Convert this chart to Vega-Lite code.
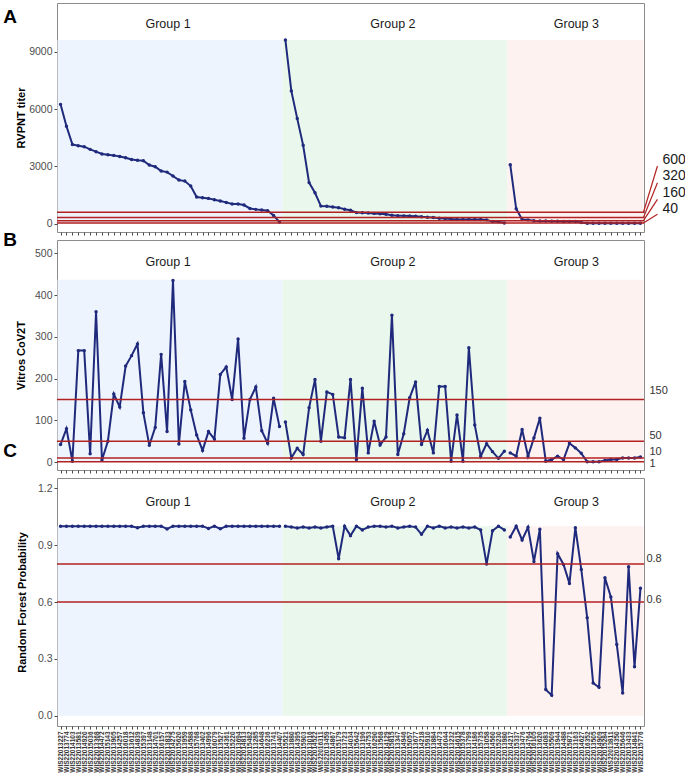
{
  "$schema": "https://vega.github.io/schema/vega-lite/v6.json",
  "padding": {"left": 2, "top": 2, "right": 0, "bottom": 0},
  "spacing": 8,
  "bounds": "flush",
  "config": {
    "font": "Liberation Sans",
    "view": {"stroke": "#8c8c8c", "strokeWidth": 1},
    "axis": {"grid": false, "domain": false, "tickColor": "#4d4d4d", "tickSize": 3, "labelColor": "#4d4d4d", "labelFontSize": 10.5, "labelPadding": 2, "titleFontSize": 11, "titleFontWeight": "bold", "titleColor": "#000000"}
  },
  "datasets": {
    "samples": [
      {"id": "WIS22013227", "group": "Group 1", "titer": 6245, "vitros": 42, "rf": 1.0},
      {"id": "WIS22013774", "group": "Group 1", "titer": 5100, "vitros": 80, "rf": 1.0},
      {"id": "WIS22014103", "group": "Group 1", "titer": 4150, "vitros": 2, "rf": 1.0},
      {"id": "WIS22013581", "group": "Group 1", "titer": 4080, "vitros": 267, "rf": 1.0},
      {"id": "WIS22014920", "group": "Group 1", "titer": 4030, "vitros": 267, "rf": 1.0},
      {"id": "WIS22015036", "group": "Group 1", "titer": 3890, "vitros": 20, "rf": 1.0},
      {"id": "WIS22013368", "group": "Group 1", "titer": 3770, "vitros": 360, "rf": 1.0},
      {"id": "WIS22014472", "group": "Group 1", "titer": 3645, "vitros": 5, "rf": 1.0},
      {"id": "WIS22015143", "group": "Group 1", "titer": 3610, "vitros": 50, "rf": 1.0},
      {"id": "WIS22013905", "group": "Group 1", "titer": 3575, "vitros": 163, "rf": 1.0},
      {"id": "WIS22014257", "group": "Group 1", "titer": 3520, "vitros": 132, "rf": 1.0},
      {"id": "WIS22016018", "group": "Group 1", "titer": 3450, "vitros": 230, "rf": 1.0},
      {"id": "WIS22013612", "group": "Group 1", "titer": 3365, "vitros": 255, "rf": 1.0},
      {"id": "WIS22014839", "group": "Group 1", "titer": 3315, "vitros": 283, "rf": 0.992},
      {"id": "WIS22015397", "group": "Group 1", "titer": 3295, "vitros": 118, "rf": 1.0},
      {"id": "WIS22013148", "group": "Group 1", "titer": 3070, "vitros": 40, "rf": 1.0},
      {"id": "WIS22014701", "group": "Group 1", "titer": 2980, "vitros": 83, "rf": 1.0},
      {"id": "WIS22016157", "group": "Group 1", "titer": 2755, "vitros": 258, "rf": 1.0},
      {"id": "WIS22013833", "group": "Group 1", "titer": 2700, "vitros": 73, "rf": 0.985},
      {"id": "WIS22014275", "group": "Group 1", "titer": 2495, "vitros": 435, "rf": 1.0},
      {"id": "WIS22015620", "group": "Group 1", "titer": 2285, "vitros": 43, "rf": 1.0},
      {"id": "WIS22013959", "group": "Group 1", "titer": 2230, "vitros": 193, "rf": 1.0},
      {"id": "WIS22014588", "group": "Group 1", "titer": 1970, "vitros": 125, "rf": 1.0},
      {"id": "WIS22015768", "group": "Group 1", "titer": 1395, "vitros": 65, "rf": 1.0},
      {"id": "WIS22013402", "group": "Group 1", "titer": 1360, "vitros": 28, "rf": 1.0},
      {"id": "WIS22014996", "group": "Group 1", "titer": 1325, "vitros": 73, "rf": 0.988},
      {"id": "WIS22016079", "group": "Group 1", "titer": 1255, "vitros": 55, "rf": 1.0},
      {"id": "WIS22013527", "group": "Group 1", "titer": 1185, "vitros": 210, "rf": 0.986},
      {"id": "WIS22014361", "group": "Group 1", "titer": 1115, "vitros": 228, "rf": 1.0},
      {"id": "WIS22015220", "group": "Group 1", "titer": 1030, "vitros": 150, "rf": 1.0},
      {"id": "WIS22013694", "group": "Group 1", "titer": 1030, "vitros": 295, "rf": 1.0},
      {"id": "WIS22014813", "group": "Group 1", "titer": 975, "vitros": 57, "rf": 1.0},
      {"id": "WIS22015482", "group": "Group 1", "titer": 800, "vitros": 150, "rf": 1.0},
      {"id": "WIS22013285", "group": "Group 1", "titer": 750, "vitros": 180, "rf": 1.0},
      {"id": "WIS22014648", "group": "Group 1", "titer": 715, "vitros": 75, "rf": 1.0},
      {"id": "WIS22016236", "group": "Group 1", "titer": 680, "vitros": 45, "rf": 1.0},
      {"id": "WIS22013741", "group": "Group 1", "titer": 435, "vitros": 153, "rf": 1.0},
      {"id": "WIS22014407", "group": "Group 1", "titer": 85, "vitros": 85, "rf": 1.0},
      {"id": "WIS22015521", "group": "Group 2", "titer": 9610, "vitros": 96, "rf": 1.0},
      {"id": "WIS22013880", "group": "Group 2", "titer": 6950, "vitros": 10, "rf": 0.995},
      {"id": "WIS22014395", "group": "Group 2", "titer": 5500, "vitros": 33, "rf": 0.99},
      {"id": "WIS22015903", "group": "Group 2", "titer": 4100, "vitros": 18, "rf": 0.995},
      {"id": "WIS22013016", "group": "Group 2", "titer": 2150, "vitros": 130, "rf": 0.99},
      {"id": "WIS22014522", "group": "Group 2", "titer": 1620, "vitros": 198, "rf": 0.995},
      {"id": "WIS22016311", "group": "Group 2", "titer": 920, "vitros": 50, "rf": 0.99},
      {"id": "WIS22013459", "group": "Group 2", "titer": 910, "vitros": 168, "rf": 0.995},
      {"id": "WIS22014867", "group": "Group 2", "titer": 870, "vitros": 162, "rf": 1.0},
      {"id": "WIS22015179", "group": "Group 2", "titer": 840, "vitros": 60, "rf": 0.828},
      {"id": "WIS22013723", "group": "Group 2", "titer": 760, "vitros": 58, "rf": 1.0},
      {"id": "WIS22014034", "group": "Group 2", "titer": 700, "vitros": 198, "rf": 0.95},
      {"id": "WIS22015642", "group": "Group 2", "titer": 580, "vitros": 6, "rf": 1.0},
      {"id": "WIS22013196", "group": "Group 2", "titer": 570, "vitros": 177, "rf": 0.98},
      {"id": "WIS22014753", "group": "Group 2", "titer": 560, "vitros": 22, "rf": 0.995},
      {"id": "WIS22016290", "group": "Group 2", "titer": 540, "vitros": 98, "rf": 1.0},
      {"id": "WIS22013568", "group": "Group 2", "titer": 520, "vitros": 41, "rf": 1.0},
      {"id": "WIS22014129", "group": "Group 2", "titer": 500, "vitros": 60, "rf": 0.995},
      {"id": "WIS22015815", "group": "Group 2", "titer": 440, "vitros": 352, "rf": 1.0},
      {"id": "WIS22013347", "group": "Group 2", "titer": 420, "vitros": 18, "rf": 0.99},
      {"id": "WIS22014946", "group": "Group 2", "titer": 410, "vitros": 68, "rf": 0.995},
      {"id": "WIS22015057", "group": "Group 2", "titer": 400, "vitros": 154, "rf": 1.0},
      {"id": "WIS22013677", "group": "Group 2", "titer": 395, "vitros": 192, "rf": 0.995},
      {"id": "WIS22014218", "group": "Group 2", "titer": 360, "vitros": 42, "rf": 0.957},
      {"id": "WIS22015910", "group": "Group 2", "titer": 340, "vitros": 76, "rf": 1.0},
      {"id": "WIS22013884", "group": "Group 2", "titer": 320, "vitros": 22, "rf": 0.99},
      {"id": "WIS22014473", "group": "Group 2", "titer": 290, "vitros": 181, "rf": 1.0},
      {"id": "WIS22016044", "group": "Group 2", "titer": 270, "vitros": 181, "rf": 0.99},
      {"id": "WIS22013232", "group": "Group 2", "titer": 240, "vitros": 2, "rf": 0.995},
      {"id": "WIS22014615", "group": "Group 2", "titer": 220, "vitros": 113, "rf": 0.99},
      {"id": "WIS22015378", "group": "Group 2", "titer": 220, "vitros": 2, "rf": 0.995},
      {"id": "WIS22013799", "group": "Group 2", "titer": 220, "vitros": 274, "rf": 0.99},
      {"id": "WIS22014186", "group": "Group 2", "titer": 220, "vitros": 89, "rf": 0.995},
      {"id": "WIS22015735", "group": "Group 2", "titer": 220, "vitros": 14, "rf": 0.98},
      {"id": "WIS22013058", "group": "Group 2", "titer": 200, "vitros": 44, "rf": 0.80},
      {"id": "WIS22014560", "group": "Group 2", "titer": 120, "vitros": 25, "rf": 0.976},
      {"id": "WIS22015230", "group": "Group 2", "titer": 100, "vitros": 9, "rf": 1.0},
      {"id": "WIS22013980", "group": "Group 2", "titer": 40, "vitros": 26, "rf": 0.98},
      {"id": "WIS22014217", "group": "Group 3", "titer": 3080, "vitros": 22, "rf": 0.943},
      {"id": "WIS22015337", "group": "Group 3", "titer": 780, "vitros": 14, "rf": 1.0},
      {"id": "WIS22013476", "group": "Group 3", "titer": 220, "vitros": 78, "rf": 0.927},
      {"id": "WIS22014764", "group": "Group 3", "titer": 200, "vitros": 14, "rf": 0.994},
      {"id": "WIS22016105", "group": "Group 3", "titer": 150, "vitros": 58, "rf": 0.813},
      {"id": "WIS22013620", "group": "Group 3", "titer": 140, "vitros": 105, "rf": 0.984},
      {"id": "WIS22014083", "group": "Group 3", "titer": 140, "vitros": 2, "rf": 0.138},
      {"id": "WIS22015509", "group": "Group 3", "titer": 130, "vitros": 6, "rf": 0.108},
      {"id": "WIS22013944", "group": "Group 3", "titer": 130, "vitros": 14, "rf": 0.855},
      {"id": "WIS22014488", "group": "Group 3", "titer": 120, "vitros": 6, "rf": 0.798},
      {"id": "WIS22015871", "group": "Group 3", "titer": 120, "vitros": 45, "rf": 0.698},
      {"id": "WIS22013163", "group": "Group 3", "titer": 110, "vitros": 34, "rf": 0.992},
      {"id": "WIS22014627", "group": "Group 3", "titer": 60, "vitros": 21, "rf": 0.772},
      {"id": "WIS22016352", "group": "Group 3", "titer": 20, "vitros": 1, "rf": 0.517},
      {"id": "WIS22013505", "group": "Group 3", "titer": 20, "vitros": 1, "rf": 0.173},
      {"id": "WIS22014909", "group": "Group 3", "titer": 20, "vitros": 1, "rf": 0.150},
      {"id": "WIS22015284", "group": "Group 3", "titer": 20, "vitros": 4, "rf": 0.728},
      {"id": "WIS22013811", "group": "Group 3", "titer": 20, "vitros": 6, "rf": 0.626},
      {"id": "WIS22014350", "group": "Group 3", "titer": 20, "vitros": 6, "rf": 0.376},
      {"id": "WIS22015646", "group": "Group 3", "titer": 20, "vitros": 10, "rf": 0.120},
      {"id": "WIS22013433", "group": "Group 3", "titer": 20, "vitros": 10, "rf": 0.786},
      {"id": "WIS22014841", "group": "Group 3", "titer": 20, "vitros": 10, "rf": 0.258},
      {"id": "WIS22015776", "group": "Group 3", "titer": 20, "vitros": 12, "rf": 0.672}
    ],
    "groups": [
      {"group": "Group 1", "first": "WIS22013227", "last": "WIS22014407", "mid": "WIS22013833"},
      {"group": "Group 2", "first": "WIS22015521", "last": "WIS22013980", "mid": "WIS22015815"},
      {"group": "Group 3", "first": "WIS22014217", "last": "WIS22015776", "mid": "WIS22013163"}
    ],
    "thrA": [
      {"thr": 600, "label": "600", "ly": 3330, "ey": 3020, "end": "WIS22015776"},
      {"thr": 320, "label": "320", "ly": 2480, "ey": 2145, "end": "WIS22015776"},
      {"thr": 160, "label": "160", "ly": 1620, "ey": 1277, "end": "WIS22015776"},
      {"thr": 40, "label": "40", "ly": 770, "ey": 492, "end": "WIS22015776"}
    ],
    "thrB": [
      {"thr": 150, "label": "150", "ly": 170, "end": "WIS22015776"},
      {"thr": 50, "label": "50", "ly": 62, "end": "WIS22015776"},
      {"thr": 10, "label": "10", "ly": 25, "end": "WIS22015776"},
      {"thr": 1, "label": "1", "ly": -5, "end": "WIS22015776"}
    ],
    "thrC": [
      {"thr": 0.8, "label": "0.8", "ly": 0.828, "end": "WIS22015776"},
      {"thr": 0.6, "label": "0.6", "ly": 0.612, "end": "WIS22015776"}
    ]
  },
  "vconcat": [
    {
      "width": 587, "height": 229,
      "encoding": {
        "x": {"field": "id", "type": "nominal", "sort": null,
          "scale": {"type": "point", "padding": 0.6, "domain": ["WIS22013227","WIS22013774","WIS22014103","WIS22013581","WIS22014920","WIS22015036","WIS22013368","WIS22014472","WIS22015143","WIS22013905","WIS22014257","WIS22016018","WIS22013612","WIS22014839","WIS22015397","WIS22013148","WIS22014701","WIS22016157","WIS22013833","WIS22014275","WIS22015620","WIS22013959","WIS22014588","WIS22015768","WIS22013402","WIS22014996","WIS22016079","WIS22013527","WIS22014361","WIS22015220","WIS22013694","WIS22014813","WIS22015482","WIS22013285","WIS22014648","WIS22016236","WIS22013741","WIS22014407","WIS22015521","WIS22013880","WIS22014395","WIS22015903","WIS22013016","WIS22014522","WIS22016311","WIS22013459","WIS22014867","WIS22015179","WIS22013723","WIS22014034","WIS22015642","WIS22013196","WIS22014753","WIS22016290","WIS22013568","WIS22014129","WIS22015815","WIS22013347","WIS22014946","WIS22015057","WIS22013677","WIS22014218","WIS22015910","WIS22013884","WIS22014473","WIS22016044","WIS22013232","WIS22014615","WIS22015378","WIS22013799","WIS22014186","WIS22015735","WIS22013058","WIS22014560","WIS22015230","WIS22013980","WIS22014217","WIS22015337","WIS22013476","WIS22014764","WIS22016105","WIS22013620","WIS22014083","WIS22015509","WIS22013944","WIS22014488","WIS22015871","WIS22013163","WIS22014627","WIS22016352","WIS22013505","WIS22014909","WIS22015284","WIS22013811","WIS22014350","WIS22015646","WIS22013433","WIS22014841","WIS22015776"]},
          "axis": {"labels": false, "title": null, "ticks": true}}
      },
      "layer": [
        {"data": {"name": "groups"}, "mark": {"type": "rect", "xOffset": -3, "x2Offset": 3},
         "encoding": {"x": {"field": "first", "type": "nominal"}, "x2": {"field": "last"},
           "y": {"datum": 0, "type": "quantitative", "scale": {"domain": [-434, 11549], "nice": false, "zero": false}, "axis": {"title": "RVPNT titer", "values": [0, 3000, 6000, 9000], "format": "d", "titlePadding": 2}},
           "y2": {"datum": 9610},
           "fill": {"field": "group", "type": "nominal", "scale": {"domain": ["Group 1", "Group 2", "Group 3"], "range": ["#EEF4FD", "#EAF7EC", "#FDF2F0"]}, "legend": null}}},
        {"data": {"name": "samples"}, "mark": {"type": "line", "color": "#1F2A7C", "strokeWidth": 2, "point": {"filled": true, "size": 12, "color": "#1F2A7C"}},
         "encoding": {"y": {"field": "titer", "type": "quantitative"}, "detail": {"field": "group"}, "order": {"value": null}}},
        {"data": {"name": "thrA"}, "mark": {"type": "rule", "color": "#B22222", "strokeWidth": 1.5},
         "encoding": {"x": null, "y": {"field": "thr", "type": "quantitative"}}},
        {"data": {"name": "thrA"}, "mark": {"type": "rule", "color": "#B22222", "strokeWidth": 1.2, "xOffset": 3, "x2Offset": 17},
         "encoding": {"x": {"field": "end", "type": "nominal"}, "x2": {"field": "end"}, "y": {"field": "thr", "type": "quantitative"}, "y2": {"field": "ey"}}},
        {"data": {"name": "thrA"}, "mark": {"type": "text", "align": "left", "baseline": "middle", "dx": 22, "fontSize": 14, "color": "#1a1a1a"},
         "encoding": {"x": {"field": "end", "type": "nominal"}, "y": {"field": "ly", "type": "quantitative"}, "text": {"field": "label"}}},
        {"data": {"name": "groups"}, "mark": {"type": "text", "align": "center", "baseline": "middle", "dx": 1, "fontSize": 12.5, "color": "#1a1a1a"},
         "encoding": {"x": {"field": "mid", "type": "nominal"}, "y": {"datum": 10450, "type": "quantitative"}, "text": {"field": "group"}}},
        {"data": {"values": [{"tag": "A"}]}, "mark": {"type": "text", "align": "left", "baseline": "top", "dx": -57.3, "dy": 4.5, "fontSize": 19, "fontWeight": "bold", "color": "#000000"},
         "encoding": {"x": {"datum": "WIS22013227", "type": "nominal"}, "y": {"datum": 11549, "type": "quantitative"}, "text": {"field": "tag"}}}
      ]
    },
    {
      "width": 587, "height": 230,
      "encoding": {
        "x": {"field": "id", "type": "nominal", "sort": null,
          "scale": {"type": "point", "padding": 0.6, "domain": ["WIS22013227","WIS22013774","WIS22014103","WIS22013581","WIS22014920","WIS22015036","WIS22013368","WIS22014472","WIS22015143","WIS22013905","WIS22014257","WIS22016018","WIS22013612","WIS22014839","WIS22015397","WIS22013148","WIS22014701","WIS22016157","WIS22013833","WIS22014275","WIS22015620","WIS22013959","WIS22014588","WIS22015768","WIS22013402","WIS22014996","WIS22016079","WIS22013527","WIS22014361","WIS22015220","WIS22013694","WIS22014813","WIS22015482","WIS22013285","WIS22014648","WIS22016236","WIS22013741","WIS22014407","WIS22015521","WIS22013880","WIS22014395","WIS22015903","WIS22013016","WIS22014522","WIS22016311","WIS22013459","WIS22014867","WIS22015179","WIS22013723","WIS22014034","WIS22015642","WIS22013196","WIS22014753","WIS22016290","WIS22013568","WIS22014129","WIS22015815","WIS22013347","WIS22014946","WIS22015057","WIS22013677","WIS22014218","WIS22015910","WIS22013884","WIS22014473","WIS22016044","WIS22013232","WIS22014615","WIS22015378","WIS22013799","WIS22014186","WIS22015735","WIS22013058","WIS22014560","WIS22015230","WIS22013980","WIS22014217","WIS22015337","WIS22013476","WIS22014764","WIS22016105","WIS22013620","WIS22014083","WIS22015509","WIS22013944","WIS22014488","WIS22015871","WIS22013163","WIS22014627","WIS22016352","WIS22013505","WIS22014909","WIS22015284","WIS22013811","WIS22014350","WIS22015646","WIS22013433","WIS22014841","WIS22015776"]},
          "axis": {"labels": false, "title": null, "ticks": true}}
      },
      "layer": [
        {"data": {"name": "groups"}, "mark": {"type": "rect", "xOffset": -3, "x2Offset": 3},
         "encoding": {"x": {"field": "first", "type": "nominal"}, "x2": {"field": "last"},
           "y": {"datum": 0, "type": "quantitative", "scale": {"domain": [-19, 532], "nice": false, "zero": false}, "axis": {"title": "Vitros CoV2T", "values": [0, 100, 200, 300, 400, 500], "format": "d", "titlePadding": 8}},
           "y2": {"datum": 437},
           "fill": {"field": "group", "type": "nominal", "scale": {"domain": ["Group 1", "Group 2", "Group 3"], "range": ["#EEF4FD", "#EAF7EC", "#FDF2F0"]}, "legend": null}}},
        {"data": {"name": "samples"}, "mark": {"type": "line", "color": "#1F2A7C", "strokeWidth": 2, "point": {"filled": true, "size": 12, "color": "#1F2A7C"}},
         "encoding": {"y": {"field": "vitros", "type": "quantitative"}, "detail": {"field": "group"}, "order": {"value": null}}},
        {"data": {"name": "thrB"}, "mark": {"type": "rule", "color": "#B22222", "strokeWidth": 1.5},
         "encoding": {"x": null, "y": {"field": "thr", "type": "quantitative"}}},
        {"data": {"name": "thrB"}, "mark": {"type": "text", "align": "left", "baseline": "middle", "dx": 9, "fontSize": 11, "color": "#333333"},
         "encoding": {"x": {"field": "end", "type": "nominal"}, "y": {"field": "ly", "type": "quantitative"}, "text": {"field": "label"}}},
        {"data": {"name": "groups"}, "mark": {"type": "text", "align": "center", "baseline": "middle", "dx": 1, "fontSize": 12.5, "color": "#1a1a1a"},
         "encoding": {"x": {"field": "mid", "type": "nominal"}, "y": {"datum": 479, "type": "quantitative"}, "text": {"field": "group"}}},
        {"data": {"values": [{"tag": "B"}]}, "mark": {"type": "text", "align": "left", "baseline": "top", "dx": -57.3, "dy": -9.5, "fontSize": 19, "fontWeight": "bold", "color": "#000000"},
         "encoding": {"x": {"datum": "WIS22013227", "type": "nominal"}, "y": {"datum": 532, "type": "quantitative"}, "text": {"field": "tag"}}}
      ]
    },
    {
      "width": 587, "height": 248,
      "encoding": {
        "x": {"field": "id", "type": "nominal", "sort": null,
          "scale": {"type": "point", "padding": 0.6, "domain": ["WIS22013227","WIS22013774","WIS22014103","WIS22013581","WIS22014920","WIS22015036","WIS22013368","WIS22014472","WIS22015143","WIS22013905","WIS22014257","WIS22016018","WIS22013612","WIS22014839","WIS22015397","WIS22013148","WIS22014701","WIS22016157","WIS22013833","WIS22014275","WIS22015620","WIS22013959","WIS22014588","WIS22015768","WIS22013402","WIS22014996","WIS22016079","WIS22013527","WIS22014361","WIS22015220","WIS22013694","WIS22014813","WIS22015482","WIS22013285","WIS22014648","WIS22016236","WIS22013741","WIS22014407","WIS22015521","WIS22013880","WIS22014395","WIS22015903","WIS22013016","WIS22014522","WIS22016311","WIS22013459","WIS22014867","WIS22015179","WIS22013723","WIS22014034","WIS22015642","WIS22013196","WIS22014753","WIS22016290","WIS22013568","WIS22014129","WIS22015815","WIS22013347","WIS22014946","WIS22015057","WIS22013677","WIS22014218","WIS22015910","WIS22013884","WIS22014473","WIS22016044","WIS22013232","WIS22014615","WIS22015378","WIS22013799","WIS22014186","WIS22015735","WIS22013058","WIS22014560","WIS22015230","WIS22013980","WIS22014217","WIS22015337","WIS22013476","WIS22014764","WIS22016105","WIS22013620","WIS22014083","WIS22015509","WIS22013944","WIS22014488","WIS22015871","WIS22013163","WIS22014627","WIS22016352","WIS22013505","WIS22014909","WIS22015284","WIS22013811","WIS22014350","WIS22015646","WIS22013433","WIS22014841","WIS22015776"]},
          "axis": {"title": null, "labelAngle": 270, "labelAlign": "right", "labelBaseline": "middle", "labelFontSize": 6.5, "labelFontWeight": "bold", "labelColor": "#333333", "labelOverlap": false, "labelPadding": 2}}
      },
      "layer": [
        {"data": {"name": "groups"}, "mark": {"type": "rect", "xOffset": -3, "x2Offset": 3},
         "encoding": {"x": {"field": "first", "type": "nominal"}, "x2": {"field": "last"},
           "y": {"datum": 0, "type": "quantitative", "scale": {"domain": [-0.054, 1.254], "nice": false, "zero": false}, "axis": {"title": "Random Forest Probability", "values": [0, 0.3, 0.6, 0.9, 1.2], "format": ".1f", "titlePadding": 10}},
           "y2": {"datum": 1.0},
           "fill": {"field": "group", "type": "nominal", "scale": {"domain": ["Group 1", "Group 2", "Group 3"], "range": ["#EEF4FD", "#EAF7EC", "#FDF2F0"]}, "legend": null}}},
        {"data": {"name": "samples"}, "mark": {"type": "line", "color": "#1F2A7C", "strokeWidth": 2, "point": {"filled": true, "size": 12, "color": "#1F2A7C"}},
         "encoding": {"y": {"field": "rf", "type": "quantitative"}, "detail": {"field": "group"}, "order": {"value": null}}},
        {"data": {"name": "thrC"}, "mark": {"type": "rule", "color": "#B22222", "strokeWidth": 1.5},
         "encoding": {"x": null, "y": {"field": "thr", "type": "quantitative"}}},
        {"data": {"name": "thrC"}, "mark": {"type": "text", "align": "left", "baseline": "middle", "dx": 6, "fontSize": 11, "color": "#333333"},
         "encoding": {"x": {"field": "end", "type": "nominal"}, "y": {"field": "ly", "type": "quantitative"}, "text": {"field": "label"}}},
        {"data": {"name": "groups"}, "mark": {"type": "text", "align": "center", "baseline": "middle", "dx": 1, "fontSize": 12.5, "color": "#1a1a1a"},
         "encoding": {"x": {"field": "mid", "type": "nominal"}, "y": {"datum": 1.126, "type": "quantitative"}, "text": {"field": "group"}}},
        {"data": {"values": [{"tag": "C"}]}, "mark": {"type": "text", "align": "left", "baseline": "top", "dx": -57.3, "dy": -36.5, "fontSize": 19, "fontWeight": "bold", "color": "#000000"},
         "encoding": {"x": {"datum": "WIS22013227", "type": "nominal"}, "y": {"datum": 1.254, "type": "quantitative"}, "text": {"field": "tag"}}}
      ]
    }
  ]
}
